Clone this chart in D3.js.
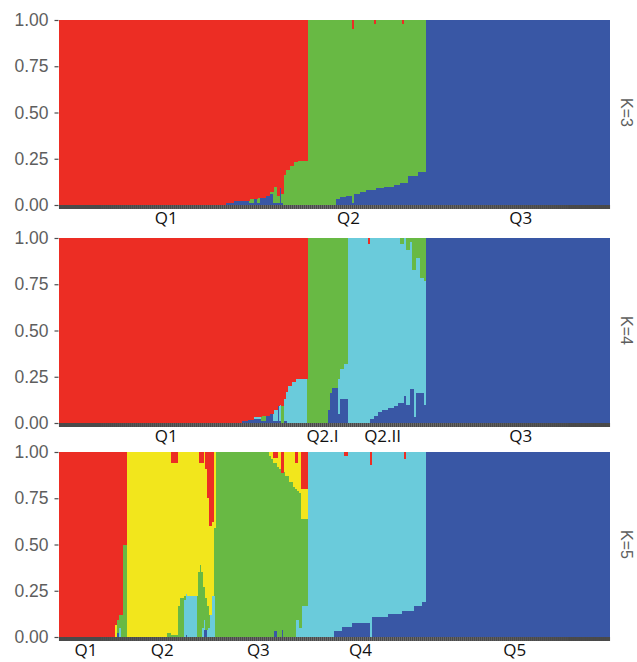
<!DOCTYPE html>
<html>
<head>
<meta charset="utf-8">
<script src="https://cdn.jsdelivr.net/npm/d3@7"></script>
<style>
  body { margin: 0; background: #fff; }
  svg { display: block; }
</style>
</head>
<body>
<svg id="chart" width="637" height="662"></svg>
<script>
// ancestry runs: [number of individuals, q per cluster in cluster order]
const yTicks = [0, 0.25, 0.5, 0.75, 1];

const k3Clusters = ["Q1", "Q2", "Q3"];
const k3Colors = ["#ec2d24", "#68b944", "#3957a5"];
const k3Runs = [
  [83, 1, 0, 0], [4, 0.99, 0, 0.01], [8, 0.98, 0, 0.02], [2, 0.97, 0.02, 0.01],
  [2, 0.97, 0, 0.03], [1, 0.96, 0.03, 0.01], [3, 0.96, 0, 0.04], [2, 0.95, 0, 0.05],
  [2, 0.93, 0.01, 0.06], [2, 0.9, 0.09, 0.01], [1, 0.95, 0.04, 0.01], [1, 0.91, 0, 0.09],
  [1, 0.94, 0.05, 0.01], [1, 0.84, 0.16, 0], [2, 0.81, 0.19, 0], [2, 0.79, 0.21, 0],
  [2, 0.77, 0.23, 0], [5, 0.76, 0.24, 0],
  [14, 0, 1, 0], [2, 0, 0.965, 0.035], [3, 0, 0.955, 0.045], [3, 0, 0.95, 0.05],
  [1, 0.05, 0.94, 0.01], [3, 0, 0.94, 0.06], [3, 0, 0.93, 0.07], [4, 0, 0.92, 0.08],
  [1, 0.02, 0.9, 0.08], [4, 0, 0.91, 0.09], [5, 0, 0.9, 0.1], [3, 0, 0.89, 0.11],
  [1, 0, 0.88, 0.12], [1, 0.02, 0.86, 0.12], [2, 0, 0.88, 0.12], [5, 0, 0.845, 0.155],
  [4, 0, 0.82, 0.18],
  [92, 0, 0, 1]
];
const k3Labels = ["Q1", "Q2", "Q3"];
const k3LabelAt = [53, 144, 230];

const k4Clusters = ["Q1", "Q2.I", "Q2.II", "Q3"];
const k4Colors = ["#ec2d24", "#68b944", "#6acbdb", "#3957a5"];
const k4Runs = [
  [91, 1, 0, 0, 0], [3, 0.99, 0, 0, 0.01], [3, 0.985, 0, 0, 0.015], [4, 0.97, 0, 0.01, 0.02],
  [2, 0.96, 0.03, 0, 0.01], [2, 0.96, 0, 0, 0.04], [2, 0.95, 0, 0, 0.05], [2, 0.93, 0, 0.06, 0.01],
  [1, 0.91, 0, 0, 0.09], [1, 0.9, 0, 0.09, 0.01], [1, 0.91, 0.09, 0, 0], [1, 0.87, 0, 0.12, 0.01],
  [1, 0.83, 0, 0.16, 0.01], [2, 0.8, 0, 0.2, 0], [2, 0.78, 0, 0.22, 0], [6, 0.76, 0, 0.24, 0],
  [10, 0, 1, 0, 0], [1, 0, 0.93, 0, 0.07], [1, 0, 0.84, 0, 0.16], [3, 0, 0.81, 0, 0.19],
  [1, 0, 0.76, 0.19, 0.05], [2, 0, 0.71, 0.16, 0.13], [2, 0, 0.68, 0.19, 0.13],
  [10, 0, 0, 1, 0], [1, 0.03, 0, 0.97, 0], [2, 0, 0, 0.98, 0.02], [2, 0, 0, 0.96, 0.04],
  [2, 0, 0, 0.94, 0.06], [3, 0, 0, 0.93, 0.07], [3, 0, 0, 0.92, 0.08], [2, 0, 0, 0.91, 0.09],
  [1, 0, 0, 0.89, 0.11], [2, 0, 0.03, 0.86, 0.11], [1, 0, 0, 0.855, 0.145], [2, 0, 0.065, 0.835, 0.1],
  [1, 0, 0.02, 0.795, 0.185], [1, 0, 0.175, 0.64, 0.185], [1, 0, 0.175, 0.795, 0.03],
  [2, 0, 0.11, 0.73, 0.16], [2, 0, 0.215, 0.625, 0.16], [1, 0, 0.23, 0.67, 0.1],
  [92, 0, 0, 0, 1]
];
const k4Labels = ["Q1", "Q2.I", "Q2.II", "Q3"];
const k4LabelAt = [53, 131, 161, 230];

const k5Clusters = ["Q1", "Q2", "Q3", "Q4", "Q5"];
const k5Colors = ["#ec2d24", "#f2e61c", "#68b944", "#6acbdb", "#3957a5"];
const k5Runs = [
  [28, 1, 0, 0, 0, 0], [1, 0.935, 0.065, 0, 0, 0], [1, 0.91, 0, 0.07, 0, 0.02],
  [1, 0.88, 0, 0.07, 0.05, 0], [1, 0.88, 0, 0.12, 0, 0], [2, 0.5, 0, 0.5, 0, 0],
  [20, 0, 1, 0, 0, 0], [2, 0, 0.98, 0.02, 0, 0], [3, 0.06, 0.93, 0.01, 0, 0],
  [1, 0, 0.83, 0.17, 0, 0], [2, 0, 0.79, 0.21, 0, 0], [1, 0, 0.78, 0.02, 0.2, 0],
  [1, 0, 0.77, 0, 0.22, 0.01], [5, 0, 0.78, 0, 0.22, 0], [1, 0, 0.65, 0.35, 0, 0],
  [1, 0.06, 0.55, 0.39, 0, 0], [1, 0.06, 0.59, 0.3, 0.05, 0], [1, 0, 0.73, 0.18, 0.05, 0.04],
  [1, 0.09, 0.7, 0.17, 0, 0.04], [1, 0.25, 0.58, 0.12, 0.05, 0], [1, 0.4, 0.48, 0, 0.12, 0],
  [1, 0.38, 0.4, 0, 0.22, 0],
  [1, 0, 0.41, 0.37, 0.22, 0], [27, 0, 0, 1, 0, 0], [1, 0, 0.02, 0.98, 0, 0],
  [1, 0, 0.04, 0.96, 0, 0], [2, 0.035, 0.025, 0.91, 0, 0.03], [1, 0, 0.08, 0.92, 0, 0],
  [1, 0, 0.09, 0.91, 0, 0], [1, 0.115, 0, 0.845, 0, 0.04], [1, 0, 0.11, 0.89, 0, 0],
  [2, 0, 0.13, 0.87, 0, 0], [2, 0, 0.16, 0.84, 0, 0], [1, 0, 0.19, 0.81, 0, 0],
  [1, 0.06, 0.14, 0.71, 0.09, 0], [1, 0, 0.21, 0.7, 0.09, 0], [1, 0, 0.22, 0.73, 0.05, 0],
  [3, 0.2, 0.16, 0.47, 0.17, 0],
  [13, 0, 0, 0, 1, 0], [4, 0, 0, 0, 0.97, 0.03], [1, 0, 0, 0, 0.945, 0.055],
  [2, 0.02, 0, 0, 0.925, 0.055], [2, 0, 0, 0, 0.945, 0.055], [9, 0, 0, 0, 0.925, 0.075],
  [1, 0.07, 0, 0, 0.93, 0], [8, 0, 0, 0, 0.89, 0.11], [7, 0, 0, 0, 0.875, 0.125],
  [1, 0, 0, 0, 0.86, 0.14], [1, 0.04, 0, 0, 0.82, 0.14], [4, 0, 0, 0, 0.86, 0.14],
  [4, 0, 0, 0, 0.835, 0.165], [2, 0, 0, 0, 0.81, 0.19],
  [92, 0, 0, 0, 0, 1]
];
const k5Labels = ["Q1", "Q2", "Q3", "Q4", "Q5"];
const k5LabelAt = [13, 51, 99, 150, 227];

const panels = [
  {name: "K=3", clusters: k3Clusters, colors: k3Colors, runs: k3Runs, labels: k3Labels, labelAt: k3LabelAt, top: 20},
  {name: "K=4", clusters: k4Clusters, colors: k4Colors, runs: k4Runs, labels: k4Labels, labelAt: k4LabelAt, top: 238},
  {name: "K=5", clusters: k5Clusters, colors: k5Colors, runs: k5Runs, labels: k5Labels, labelAt: k5LabelAt, top: 452}
];

const svg = d3.select("#chart");
const left = 59, right = 610, ph = 185;

function expand(runs, clusters) {
  const rows = [];
  runs.forEach(r => {
    for (let j = 0; j < r[0]; j++) {
      const o = {id: rows.length};
      clusters.forEach((c, ci) => o[c] = r[ci + 1]);
      rows.push(o);
    }
  });
  return rows;
}

panels.forEach(p => {
  const rows = expand(p.runs, p.clusters);
  const x = d3.scaleBand().domain(rows.map(d => d.id)).range([left, right]).padding(0);
  const y = d3.scaleLinear().domain([0, 1]).range([p.top + ph, p.top]);
  const color = d3.scaleOrdinal(p.clusters, p.colors);

  const series = d3.stack()
      .keys(p.clusters.slice().reverse())
      .offset(d3.stackOffsetExpand)(rows);

  const g = svg.append("g");
  g.append("g")
      .attr("shape-rendering", "crispEdges")
    .selectAll("g")
    .data(series)
    .join("g")
      .attr("fill", d => color(d.key))
    .selectAll("rect")
    .data(d => d.filter(s => s[1] - s[0] > 0))
    .join("rect")
      .attr("x", d => x(d.data.id))
      .attr("width", x.bandwidth() + 0.3)
      .attr("y", d => y(d[1]))
      .attr("height", d => y(d[0]) - y(d[1]));

  // y axis
  const ya = g.append("g")
      .attr("transform", `translate(${left - 0.5},0)`)
      .call(d3.axisLeft(y).tickValues(yTicks).tickFormat(d3.format(".2f")).tickSize(4).tickPadding(6));
  ya.select(".domain").remove();
  ya.selectAll(".tick line").attr("stroke", "#4d4d4d").attr("stroke-width", 1.2);
  ya.selectAll(".tick text")
      .attr("fill", "#5e5e5e")
      .style("font-family", "'Liberation Sans', Arial, sans-serif")
      .style("font-size", "17.5px");

  // x axis: one tick per individual forms the dark band
  const xa = g.append("g")
      .attr("transform", `translate(0,${p.top + ph})`)
      .call(d3.axisBottom(x).tickValues(rows.map(d => d.id)).tickSize(4).tickFormat(""));
  xa.select(".domain").remove();
  xa.selectAll(".tick line").attr("stroke", "#4a4a4a").attr("stroke-width", 2.1);

  // group labels
  g.selectAll("text.grp")
    .data(p.labels)
    .join("text")
      .attr("class", "grp")
      .attr("x", (d, i) => x(p.labelAt[i]) + x.bandwidth() / 2)
      .attr("y", p.top + ph + 18.5)
      .attr("text-anchor", "middle")
      .attr("fill", "#111")
      .style("font-family", "'Open Sans', sans-serif")
      .style("font-size", "17px")
      .text(d => d);

  // strip label
  g.append("text")
      .attr("transform", `translate(627,${p.top + ph / 2}) rotate(90)`)
      .attr("text-anchor", "middle")
      .attr("dy", "0.35em")
      .attr("fill", "#5e5e5e")
      .style("font-family", "'Liberation Sans', Arial, sans-serif")
      .style("font-size", "16px")
      .text(p.name);
});
</script>
</body>
</html>
